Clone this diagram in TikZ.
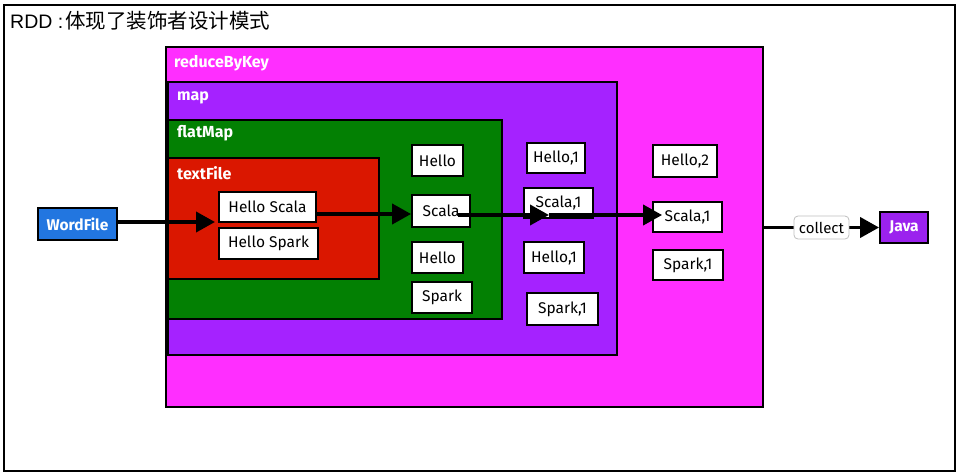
\documentclass[tikz,border=0pt]{standalone}
\usepackage{fontspec}
\setmainfont{Fira Sans}
\newfontfamily\cjk{Noto Sans CJK SC}
\newfontfamily\titlefont{Liberation Sans}
\usetikzlibrary{arrows.meta}

\definecolor{rbkfill}{HTML}{FF2EFF}
\definecolor{mapfill}{HTML}{A522FF}
\definecolor{flatfill}{HTML}{038003}
\definecolor{tffill}{HTML}{DA1700}
\definecolor{wffill}{HTML}{2276E0}
\definecolor{javafill}{HTML}{9B22EE}

\tikzset{
  layer/.style={draw=black, line width=1.7pt, inner sep=0pt},
  layerlabel/.style={anchor=west, text=white, inner sep=0pt,
    font=\fontsize{16}{18}\selectfont\bfseries},
  cell/.style={draw=black, line width=1.8pt, fill=white, inner sep=0pt,
    font=\fontsize{15.5}{17}\selectfont},
  source/.style={draw=black, line width=1.8pt, inner sep=0pt, text=white,
    font=\fontsize{15.5}{17}\selectfont\bfseries},
  flow/.style={line width=3.8pt, -{Triangle[length=19pt,width=20pt]}},
  tag/.style={draw=black!25, fill=white, rounded corners=4pt, line width=0.8pt,
    inner sep=0pt, minimum width=55pt, minimum height=23pt,
    font=\fontsize{15}{17}\selectfont},
}

\begin{document}
\begin{tikzpicture}[x=1pt,y=-1pt]
\useasboundingbox (0,0) rectangle (961,475);

% outer frame and title
\node[draw=black, line width=1.8pt, minimum width=951pt, minimum height=466pt, inner sep=0pt] (frame) at (479.5,238) {};
\node[anchor=west, inner sep=0pt] (title) at (10,21)
  {{\titlefont\fontsize{19.5}{21}\selectfont RDD :}\hspace{2pt}{\cjk\fontsize{20.5}{22}\selectfont 体现了装饰者设计模式}};

% nested RDD layers
\node[layer, fill=rbkfill, minimum width=597pt, minimum height=360pt] (rbk) at (464.5,227) {};
\node[layer, fill=mapfill, minimum width=449pt, minimum height=273pt] (map) at (392.5,218.5) {};
\node[layer, fill=flatfill, minimum width=334pt, minimum height=199pt] (flat) at (335,219.5) {};
\node[layer, fill=tffill, minimum width=211pt, minimum height=121pt] (tf) at (273.5,218.5) {};

\node[layerlabel] (rbklbl) at (174,63) {reduceByKey};
\node[layerlabel] (maplbl) at (177,98) {map};
\node[layerlabel] (flatlbl) at (177,133) {flatMap};
\node[layerlabel] (tflbl) at (177,173) {textFile};

% textFile lines
\node[cell, minimum width=97pt, minimum height=30pt] (hs) at (267.5,207) {Hello Scala};
\node[cell, minimum width=99pt, minimum height=31pt] (hsp) at (268.5,243.5) {Hello Spark};

% flatMap words
\node[cell, minimum width=51pt, minimum height=31pt] (fhello) at (437.5,160.5) {Hello};
\node[cell, minimum width=58pt, minimum height=32pt] (fscala) at (441,211) {Scala};
\node[cell, minimum width=51pt, minimum height=31pt] (fhellob) at (437.5,257.5) {Hello};
\node[cell, minimum width=60pt, minimum height=31pt] (fspark) at (442,297.5) {Spark};

% map pairs
\node[cell, minimum width=58pt, minimum height=30pt] (mhello) at (556,158) {Hello,1};
\node[cell, minimum width=69pt, minimum height=30pt] (mscala) at (558.5,203) {Scala,1};
\node[cell, minimum width=60pt, minimum height=31pt] (mhellob) at (554,257.5) {Hello,1};
\node[cell, minimum width=71pt, minimum height=32pt] (mspark) at (562.5,309) {Spark,1};

% reduceByKey results
\node[cell, minimum width=64pt, minimum height=32pt] (rhello) at (685,161) {Hello,2};
\node[cell, minimum width=69pt, minimum height=30pt] (rscala) at (687.5,217) {Scala,1};
\node[cell, minimum width=70pt, minimum height=30pt] (rspark) at (688,265) {Spark,1};

% source and sink
\node[source, fill=wffill, minimum width=79pt, minimum height=32pt] (wf) at (77.5,224) {WordFile};
\node[source, fill=javafill, minimum width=48pt, minimum height=31pt] (java) at (904,227.5) {Java};

% data flow
\coordinate (wfend) at (215,222);
\draw[flow] (wf.east |- wfend) -- (wfend);
\draw[flow] ([yshift=-7pt]hs.east) coordinate (hsout) -- (hsout -| fscala.west);
\coordinate (sstart) at (458,215);
\coordinate (smid) at (549,215);
\draw[flow] (sstart) -- (smid);
\draw[flow] (smid) -- ([xshift=10pt]rscala.west |- smid);
\draw[flow] (rbk.east |- java.west) -- node[tag] (collect) {collect} (java.west);
\end{tikzpicture}
\end{document}
